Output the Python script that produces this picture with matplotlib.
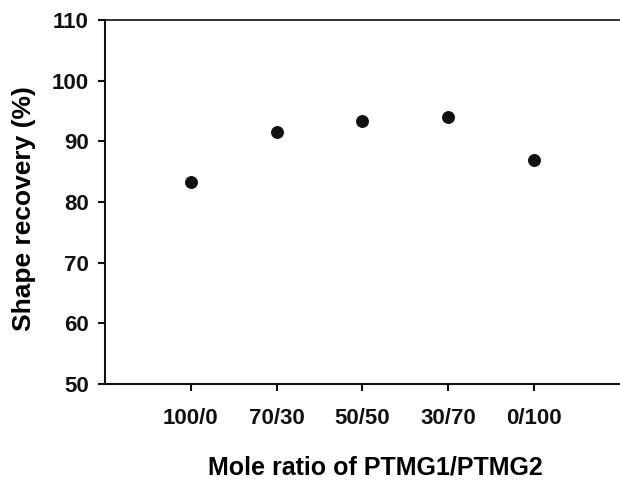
import matplotlib.pyplot as plt

# Data
ratios = ["100/0", "70/30", "50/50", "30/70", "0/100"]
recovery = [83.3, 91.5, 93.3, 94.0, 86.9]
yticks = [50, 60, 70, 80, 90, 100, 110]

plt.rcParams['font.family'] = ['Liberation Sans', 'DejaVu Sans']
plt.rcParams['font.weight'] = 'bold'

fig = plt.figure(figsize=(6.2, 4.8), dpi=100)
ax = fig.add_axes([0.169, 0.2, 0.831, 0.758])

x = list(range(1, len(ratios) + 1))
ax.plot(x, recovery, 'o', color='#111111', markersize=8.3, clip_on=False)

ax.set_xlim(0, 6)
ax.set_ylim(50, 110)
ax.set_xticks(x)
ax.set_xticklabels(ratios, fontsize=16, fontweight='bold')
ax.set_yticks(yticks)
ax.set_yticklabels([str(v) for v in yticks], fontsize=16, fontweight='bold')

for side in ('left', 'bottom', 'top'):
    ax.spines[side].set_linewidth(1.5)
    ax.spines[side].set_color('#111111')
ax.spines['top'].set_linewidth(1.2)
ax.spines['right'].set_visible(False)
ax.tick_params(direction='out', length=5, width=1.5, colors='#111111')
ax.tick_params(axis='y', pad=6.5)
ax.tick_params(axis='x', pad=12)

# axis titles, placed to match the reference
ax.set_xlabel("Mole ratio of PTMG1/PTMG2", fontsize=18, fontweight='bold')
ax.xaxis.label.set_va('baseline')
ax.xaxis.set_label_coords(0.526, -0.25)
ax.set_ylabel("Shape recovery (%)", fontsize=19, fontweight='bold')
ax.yaxis.label.set_va('center')
ax.yaxis.set_label_coords(-0.157, 0.481)

fig.savefig("out.png", dpi=100)
